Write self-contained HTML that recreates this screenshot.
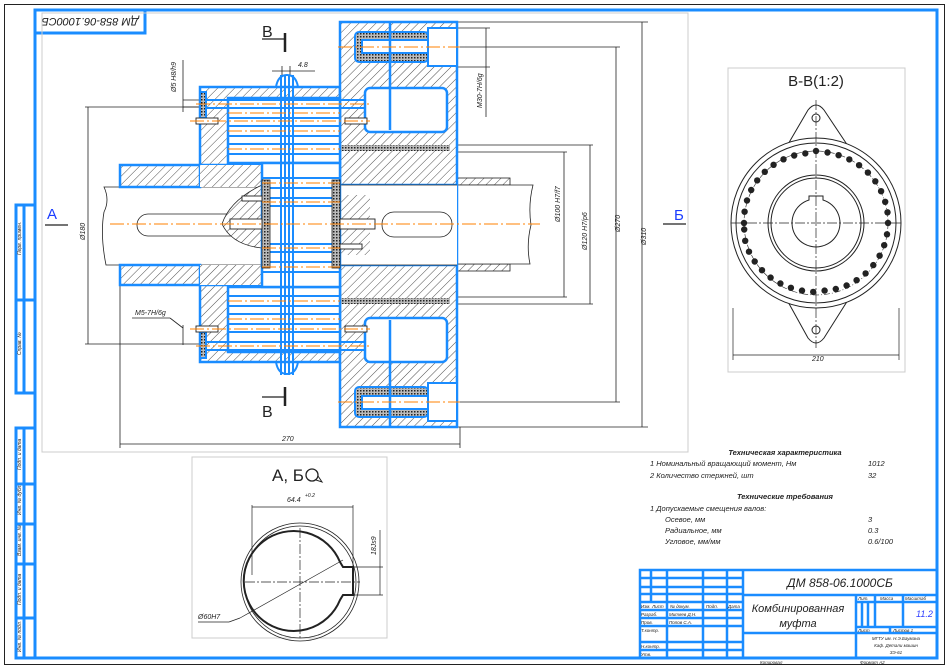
<!DOCTYPE html>
<html><head><meta charset="utf-8"><style>
html,body{margin:0;padding:0;background:#fff;}
svg{display:block;font-family:"Liberation Sans","DejaVu Sans",sans-serif;}
.t{font-style:italic;fill:#222;}
</style></head><body>
<svg width="949" height="670" viewBox="0 0 949 670" xmlns="http://www.w3.org/2000/svg">
<defs>
<pattern id="h" width="6" height="6" patternUnits="userSpaceOnUse" patternTransform="rotate(45)">
<rect width="6" height="6" fill="#fff"/><line x1="0" y1="0" x2="0" y2="6" stroke="#222" stroke-width="0.8"/></pattern>
<pattern id="x" width="3" height="3" patternUnits="userSpaceOnUse">
<rect width="3" height="3" fill="#bbb"/><rect width="1.5" height="1.5" fill="#222"/></pattern>
</defs>
<!-- sheet border -->
<rect x="4.5" y="4.5" width="940" height="660" fill="none" stroke="#222" stroke-width="1"/>
<g stroke="#1a8cff" stroke-width="3" fill="none">
<rect x="35" y="10" width="902" height="648"/>
<rect x="35" y="10" width="110" height="23"/>
<rect x="16" y="205" width="19" height="188"/>
<line x1="16" y1="300" x2="35" y2="300"/>
<line x1="24" y1="205" x2="24" y2="393"/>
<rect x="16" y="428" width="19" height="230"/>
<line x1="24" y1="428" x2="24" y2="658"/>
<line x1="16" y1="484" x2="35" y2="484"/><line x1="16" y1="524" x2="35" y2="524"/><line x1="16" y1="564" x2="35" y2="564"/><line x1="16" y1="618" x2="35" y2="618"/>
</g>
<text class="t" x="90" y="26" font-size="11" text-anchor="middle" transform="rotate(180 90 22)">ДМ 858-06.1000СБ</text>
<g font-size="5" class="t">
<text transform="translate(21,255) rotate(-90)">Перв. примен.</text>
<text transform="translate(21,355) rotate(-90)">Справ. №</text>
<text transform="translate(21,470) rotate(-90)">Подп. и дата</text>
<text transform="translate(21,515) rotate(-90)">Инв. № дубл.</text>
<text transform="translate(21,556) rotate(-90)">Взам. инв. №</text>
<text transform="translate(21,605) rotate(-90)">Подп. и дата</text>
<text transform="translate(21,652) rotate(-90)">Инв. № подл.</text>
</g>
<!-- panels -->
<rect x="42" y="13" width="646" height="439" fill="none" stroke="#ccc"/>
<rect x="728" y="68" width="177" height="304" fill="none" stroke="#ccc"/>
<rect x="192" y="457" width="195" height="181" fill="none" stroke="#ccc"/>

<!-- ===== MAIN VIEW ===== -->
<!-- dimension lines -->
<g stroke="#222" stroke-width="0.8" fill="none">
<line x1="457" y1="22" x2="648" y2="22"/><line x1="457" y1="427" x2="648" y2="427"/><line x1="642" y1="22" x2="642" y2="427"/>
<line x1="457" y1="47" x2="620" y2="47"/><line x1="457" y1="402" x2="620" y2="402"/><line x1="616" y1="47" x2="616" y2="402"/>
<line x1="457" y1="145" x2="593" y2="145"/><line x1="457" y1="304" x2="593" y2="304"/><line x1="590" y1="145" x2="590" y2="304"/>
<line x1="457" y1="152" x2="567" y2="152"/><line x1="457" y1="297" x2="567" y2="297"/><line x1="564" y1="152" x2="564" y2="297"/>
<line x1="457" y1="28" x2="490" y2="28"/><line x1="457" y1="67" x2="490" y2="67"/><line x1="486" y1="28" x2="486" y2="117"/>
<line x1="85" y1="107" x2="200" y2="107"/><line x1="85" y1="344" x2="200" y2="344"/><line x1="88" y1="107" x2="88" y2="344"/>
<line x1="120" y1="285" x2="120" y2="448"/><line x1="460" y1="427" x2="460" y2="448"/><line x1="120" y1="444" x2="460" y2="444"/>
<line x1="120" y1="258" x2="258" y2="258"/>
<line x1="341" y1="238" x2="455" y2="238"/>
<line x1="183" y1="60" x2="183" y2="112"/><line x1="183" y1="100" x2="200" y2="100"/><line x1="183" y1="107" x2="200" y2="107"/>
<line x1="183" y1="325" x2="183" y2="345"/><line x1="132" y1="318" x2="170" y2="318"/><line x1="170" y1="318" x2="183" y2="328"/>
<line x1="272" y1="71" x2="315" y2="71"/><line x1="282" y1="66" x2="282" y2="76"/><line x1="290" y1="66" x2="290" y2="76"/>
</g>
<g class="t" font-size="7">
<text transform="translate(646,245) rotate(-90)">Ø310</text>
<text transform="translate(620,232) rotate(-90)">Ø270</text>
<text transform="translate(587,250) rotate(-90)">Ø120 H7/p6</text>
<text transform="translate(560,222) rotate(-90)">Ø100 H7/f7</text>
<text transform="translate(482,108) rotate(-90)">M30-7H/6g</text>
<text transform="translate(85,240) rotate(-90)">Ø180</text>
<text transform="translate(176,92) rotate(-90)">Ø5 H8/h9</text>
<text x="135" y="315">M5-7H/6g</text>
<text x="282" y="441">270</text>
<text x="185" y="254">107</text>
<text x="392" y="235">95</text>
<text x="298" y="67">4.8</text>
<text transform="translate(384,130) rotate(-90)">Ø24 H7/n6</text>
<text transform="translate(407,125) rotate(-90)">Ø8 H7/n6</text>
</g>
<!-- right shaft -->
<rect x="457" y="178" width="53" height="7" fill="url(#h)" stroke="#222" stroke-width="0.8"/>
<rect x="457" y="264" width="53" height="7" fill="url(#h)" stroke="#222" stroke-width="0.8"/>
<path d="M457 185 H533 Q528 205 531 225 Q526 245 530 264 H457" fill="#fff" stroke="#222" stroke-width="0.8"/>
<!-- left shaft -->
<path d="M262 187 H104 Q110 200 104 212 Q100 235 106 265 H262" fill="#fff" stroke="#222" stroke-width="0.8"/>
<rect x="137" y="214" width="120" height="22" rx="11" fill="none" stroke="#222" stroke-width="0.8"/>
<!-- left hub -->
<path d="M120 165 H200 V187 H120 Z M120 265 H200 V285 H120 Z" fill="url(#h)" stroke="#1a8cff" stroke-width="2.5"/>
<!-- left flange -->
<path d="M200 87 H340 V362 H200 V285 H262 V265 H262 V187 H262 V165 H200 Z" fill="url(#h)" stroke="#1a8cff" stroke-width="2.5"/>
<path d="M200 165 H262 V187 H200 Z M200 265 H262 V285 H200 Z" fill="url(#h)" stroke="none"/>
<!-- bulb key parts -->
<path d="M262 185 Q230 200 222 224 Q232 245 262 248 Z" fill="url(#h)" stroke="#222" stroke-width="0.8"/>
<path d="M340 195 Q372 205 378 224 Q372 245 340 255 Z" fill="url(#h)" stroke="#222" stroke-width="0.8"/>
<!-- right flange -->
<path d="M340 22 H457 V427 H340 V265 H457 V185 H340 Z" fill="url(#h)" stroke="#1a8cff" stroke-width="2.5"/>
<rect x="340" y="185" width="117" height="80" fill="#fff"/>
<path d="M340 185 H457 M340 265 H457" stroke="#222" stroke-width="0.8"/>
<rect x="340" y="195" width="30" height="60" fill="url(#h)"/>
<rect x="382" y="212" width="70" height="25" rx="12" fill="#fff" stroke="#222" stroke-width="0.8"/>
<!-- pockets -->
<rect x="365" y="88" width="82" height="44" rx="5" fill="#fff" stroke="#1a8cff" stroke-width="2.5"/>
<rect x="365" y="318" width="82" height="44" rx="5" fill="#fff" stroke="#1a8cff" stroke-width="2.5"/>
<rect x="340" y="145" width="110" height="6" fill="url(#x)"/>
<rect x="340" y="298" width="110" height="6" fill="url(#x)"/>
<!-- bolts -->
<rect x="355" y="32" width="73" height="30" rx="4" fill="url(#x)" stroke="#1a8cff" stroke-width="2"/>
<rect x="362" y="40" width="66" height="13" fill="#fff" stroke="#1a8cff" stroke-width="2"/>
<rect x="428" y="28" width="29" height="38" fill="#fff" stroke="#1a8cff" stroke-width="2"/>
<rect x="355" y="387" width="73" height="30" rx="4" fill="url(#x)" stroke="#1a8cff" stroke-width="2"/>
<rect x="362" y="396" width="66" height="13" fill="#fff" stroke="#1a8cff" stroke-width="2"/>
<rect x="428" y="383" width="29" height="38" fill="#fff" stroke="#1a8cff" stroke-width="2"/>
<line x1="390" y1="22" x2="390" y2="130" stroke="#1a8cff" stroke-width="2.5"/>
<line x1="390" y1="320" x2="390" y2="427" stroke="#1a8cff" stroke-width="2.5"/>
<!-- packs -->
<rect x="228" y="98" width="112" height="65" fill="#fff" stroke="#1a8cff" stroke-width="2.5"/>
<rect x="228" y="287" width="112" height="65" fill="#fff" stroke="#1a8cff" stroke-width="2.5"/>
<rect x="262" y="163" width="78" height="124" fill="#fff" stroke="#1a8cff" stroke-width="2.5"/>
<g stroke="#1a8cff" stroke-width="2">
<line x1="205" y1="100" x2="365" y2="100"/><line x1="205" y1="108" x2="365" y2="108"/>
<line x1="228" y1="118" x2="340" y2="118"/><line x1="228" y1="126" x2="340" y2="126"/>
<line x1="228" y1="136" x2="340" y2="136"/><line x1="228" y1="144" x2="340" y2="144"/>
<line x1="228" y1="154" x2="340" y2="154"/>
<line x1="262" y1="178" x2="340" y2="178"/><line x1="262" y1="188" x2="340" y2="188"/>
<line x1="262" y1="198" x2="340" y2="198"/><line x1="262" y1="206" x2="340" y2="206"/>
<line x1="262" y1="244" x2="340" y2="244"/><line x1="262" y1="252" x2="340" y2="252"/>
<line x1="262" y1="262" x2="340" y2="262"/><line x1="262" y1="272" x2="340" y2="272"/>
<line x1="228" y1="296" x2="340" y2="296"/><line x1="228" y1="306" x2="340" y2="306"/>
<line x1="228" y1="314" x2="340" y2="314"/><line x1="228" y1="324" x2="340" y2="324"/>
<line x1="228" y1="332" x2="340" y2="332"/>
<line x1="205" y1="342" x2="365" y2="342"/><line x1="205" y1="350" x2="365" y2="350"/>
<line x1="281" y1="75" x2="281" y2="375"/><line x1="285" y1="75" x2="285" y2="375"/>
<line x1="289" y1="75" x2="289" y2="375"/><line x1="293" y1="75" x2="293" y2="375"/>
</g>
<path d="M276 87 Q278 75 287 75 Q296 75 298 87" fill="none" stroke="#1a8cff" stroke-width="2"/>
<path d="M276 362 Q278 374 287 374 Q296 374 298 362" fill="none" stroke="#1a8cff" stroke-width="2"/>
<!-- discs -->
<rect x="262" y="180" width="8" height="88" fill="url(#x)" stroke="#222" stroke-width="0.8"/>
<rect x="332" y="180" width="8" height="88" fill="url(#x)" stroke="#222" stroke-width="0.8"/>
<rect x="200" y="92" width="6" height="26" fill="url(#x)" stroke="#1a8cff" stroke-width="2"/>
<rect x="200" y="332" width="6" height="26" fill="url(#x)" stroke="#1a8cff" stroke-width="2"/>
<!-- screws -->
<g fill="#fff" stroke="#222" stroke-width="0.9">
<rect x="230" y="219" width="32" height="10"/><rect x="340" y="219" width="35" height="10"/>
<rect x="242" y="196" width="20" height="5"/><rect x="340" y="244" width="22" height="5"/>
<rect x="196" y="118" width="22" height="6"/><rect x="345" y="118" width="22" height="6"/>
<rect x="196" y="326" width="22" height="6"/><rect x="345" y="326" width="22" height="6"/>
</g>
<!-- centerlines -->
<g stroke="#ff8000" stroke-width="1" stroke-dasharray="14,3,2,3" fill="none">
<line x1="110" y1="224" x2="540" y2="224"/>
<line x1="196" y1="104" x2="370" y2="104"/><line x1="228" y1="113" x2="340" y2="113"/><line x1="228" y1="131" x2="340" y2="131"/><line x1="228" y1="149" x2="340" y2="149"/>
<line x1="262" y1="183" x2="340" y2="183"/><line x1="262" y1="202" x2="340" y2="202"/><line x1="262" y1="248" x2="340" y2="248"/><line x1="262" y1="267" x2="340" y2="267"/>
<line x1="228" y1="301" x2="340" y2="301"/><line x1="228" y1="319" x2="340" y2="319"/><line x1="196" y1="346" x2="370" y2="346"/>
<line x1="338" y1="47" x2="460" y2="47"/><line x1="338" y1="402" x2="460" y2="402"/>
<line x1="190" y1="121" x2="370" y2="121"/><line x1="190" y1="329" x2="370" y2="329"/>
</g>
<!-- section markers -->
<g stroke="#222" stroke-width="1.2" fill="#222">
<line x1="262" y1="39" x2="285" y2="39"/><line x1="285" y1="33" x2="285" y2="52" stroke-width="2.5"/>
<line x1="262" y1="397" x2="285" y2="397"/><line x1="285" y1="387" x2="285" y2="406" stroke-width="2.5"/>
<line x1="45" y1="225" x2="68" y2="225"/><line x1="663" y1="224" x2="686" y2="224"/>
</g>
<text x="262" y="37" font-size="16" fill="#222">В</text>
<text x="262" y="417" font-size="16" fill="#222">В</text>
<text x="47" y="219" font-size="15" fill="#1a3cff">А</text>
<text x="674" y="220" font-size="15" fill="#1a3cff">Б</text>

<!-- ===== B-B VIEW ===== -->
<text x="816" y="86" font-size="15" text-anchor="middle" fill="#222">В-В(1:2)</text>
<g stroke="#222" fill="none" stroke-width="1">
<path d="M787 146 L808 110 Q816 100 824 110 L848 146"/>
<path d="M787 300 L808 338 Q816 348 824 338 L848 300"/>
<circle cx="816" cy="223" r="85" fill="#fff"/>
<circle cx="816" cy="223" r="80"/>
<circle cx="816" cy="223" r="48"/><circle cx="816" cy="223" r="45"/>
<path d="M809 200 V196 H823 V200 A24 24 0 1 1 809 200 Z"/>
<circle cx="816" cy="118" r="4"/><circle cx="816" cy="330" r="4"/>
<circle cx="816" cy="223" r="72" stroke-dasharray="6,2,1,2" stroke-width="0.6"/>
<g stroke-dasharray="10,2,2,2" stroke-width="0.7">
<line x1="731" y1="223" x2="901" y2="223"/><line x1="816" y1="100" x2="816" y2="348"/>
</g>
<line x1="733" y1="308" x2="733" y2="360" stroke-width="0.7"/><line x1="899" y1="308" x2="899" y2="360" stroke-width="0.7"/>
<line x1="733" y1="355" x2="899" y2="355" stroke-width="0.7"/>
</g>
<g fill="#222" id="dots"></g>
<g fill="#222">
<circle cx="888" cy="223" r="3.2"/><circle cx="887.0" cy="234.3" r="3.2"/><circle cx="884.2" cy="245.2" r="3.2"/><circle cx="879.6" cy="255.7" r="3.2"/><circle cx="873.3" cy="265.1" r="3.2"/><circle cx="865.6" cy="273.4" r="3.2"/><circle cx="856.6" cy="280.2" r="3.2"/><circle cx="846.6" cy="285.5" r="3.2"/><circle cx="835.8" cy="289.0" r="3.2"/><circle cx="824.6" cy="290.6" r="3.2"/><circle cx="813.2" cy="291.9" r="3.2"/><circle cx="802.0" cy="290.6" r="3.2"/><circle cx="790.9" cy="287.8" r="3.2"/><circle cx="780.4" cy="283.5" r="3.2"/><circle cx="770.6" cy="277.6" r="3.2"/><circle cx="762.0" cy="270.2" r="3.2"/><circle cx="754.7" cy="261.5" r="3.2"/><circle cx="749.0" cy="251.7" r="3.2"/><circle cx="745.2" cy="240.8" r="3.2"/><circle cx="744.2" cy="229.5" r="3.2"/><circle cx="744" cy="223" r="3.2"/><circle cx="744.6" cy="211.7" r="3.2"/><circle cx="747.0" cy="200.5" r="3.2"/><circle cx="751.2" cy="190.0" r="3.2"/><circle cx="757.2" cy="180.4" r="3.2"/><circle cx="764.8" cy="171.8" r="3.2"/><circle cx="773.6" cy="164.8" r="3.2"/><circle cx="783.5" cy="159.3" r="3.2"/><circle cx="794.2" cy="155.5" r="3.2"/><circle cx="805.3" cy="153.4" r="3.2"/><circle cx="816" cy="151" r="3.2"/><circle cx="827.5" cy="152.5" r="3.2"/><circle cx="838.6" cy="155.2" r="3.2"/><circle cx="849.3" cy="159.4" r="3.2"/><circle cx="859.1" cy="165.2" r="3.2"/><circle cx="867.9" cy="172.6" r="3.2"/><circle cx="875.3" cy="181.3" r="3.2"/><circle cx="881.1" cy="191.2" r="3.2"/><circle cx="885.2" cy="201.8" r="3.2"/><circle cx="887.5" cy="212.3" r="3.2"/>
</g>
<text class="t" x="812" y="361" font-size="7">210</text>

<!-- ===== A,B VIEW ===== -->
<text x="272" y="481" font-size="17" fill="#222">А, Б</text>
<circle cx="312" cy="475" r="6" fill="none" stroke="#222" stroke-width="1.3"/>
<path d="M316 480 L322 482 L318 476" fill="none" stroke="#222" stroke-width="1"/>
<g stroke="#222" fill="none">
<circle cx="300" cy="582" r="59" stroke-width="0.8"/>
<circle cx="300" cy="582" r="56" stroke-width="0.8"/>
<path d="M340 562 L343 567 H353 V595 H343 L340 600 A50 50 0 1 1 340 562 Z" stroke-width="2"/>
<g stroke-dasharray="10,2,2,2" stroke-width="0.7"><line x1="245" y1="582" x2="360" y2="582"/><line x1="300" y1="528" x2="300" y2="640"/></g>
<g stroke-width="0.7">
<line x1="252" y1="505" x2="252" y2="575"/><line x1="353" y1="505" x2="353" y2="575"/><line x1="252" y1="507" x2="353" y2="507"/>
<line x1="353" y1="567" x2="383" y2="567"/><line x1="353" y1="595" x2="383" y2="595"/><line x1="380" y1="530" x2="380" y2="595"/>
<line x1="229" y1="622" x2="240" y2="618"/><line x1="240" y1="618" x2="343" y2="560"/><line x1="198" y1="622" x2="229" y2="622"/>
</g></g>
<g class="t" font-size="7">
<text x="287" y="502">64.4</text><text x="305" y="497" font-size="5">+0.2</text>
<text transform="translate(376,555) rotate(-90)">18Js9</text>
<text x="198" y="619">Ø60H7</text>
</g>

<!-- ===== TECH TEXT ===== -->
<g class="t" font-size="7.5">
<text x="785" y="455" text-anchor="middle" font-weight="bold">Техническая характеристика</text>
<text x="650" y="466">1  Номинальный вращающий момент, Нм</text><text x="868" y="466">1012</text>
<text x="650" y="478">2  Количество стержней, шт</text><text x="868" y="478">32</text>
<text x="785" y="499" text-anchor="middle" font-weight="bold">Технические требования</text>
<text x="650" y="511">1  Допускаемые смещения валов:</text>
<text x="665" y="522">Осевое, мм</text><text x="868" y="522">3</text>
<text x="665" y="533">Радиальное, мм</text><text x="868" y="533">0.3</text>
<text x="665" y="544">Угловое, мм/мм</text><text x="868" y="544">0.6/100</text>
</g>

<!-- ===== TITLE BLOCK ===== -->
<g stroke="#1a8cff" stroke-width="2.5" fill="none">
<rect x="640" y="570" width="297" height="88"/>
<line x1="651" y1="570" x2="651" y2="602"/><line x1="667" y1="570" x2="667" y2="658"/><line x1="703" y1="570" x2="703" y2="658"/><line x1="727" y1="570" x2="727" y2="658"/><line x1="743" y1="570" x2="743" y2="658"/>
<line x1="640" y1="578" x2="743" y2="578"/><line x1="640" y1="587" x2="743" y2="587"/><line x1="640" y1="594" x2="743" y2="594"/><line x1="640" y1="602" x2="743" y2="602"/>
<line x1="640" y1="610" x2="743" y2="610"/><line x1="640" y1="618" x2="743" y2="618"/><line x1="640" y1="626" x2="743" y2="626"/><line x1="640" y1="642" x2="743" y2="642"/><line x1="640" y1="650" x2="743" y2="650"/>
<line x1="743" y1="595" x2="937" y2="595"/><line x1="743" y1="633" x2="937" y2="633"/>
<line x1="856" y1="595" x2="856" y2="658"/>
<line x1="856" y1="602" x2="937" y2="602"/><line x1="856" y1="627" x2="937" y2="627"/>
<line x1="875" y1="595" x2="875" y2="627"/><line x1="903" y1="595" x2="903" y2="627"/>
<line x1="862" y1="602" x2="862" y2="627"/><line x1="868" y1="602" x2="868" y2="627"/>
<line x1="890" y1="627" x2="890" y2="633"/>
</g>
<text class="t" x="840" y="587" font-size="12" text-anchor="middle">ДМ 858-06.1000СБ</text>
<text class="t" x="798" y="612" font-size="11" text-anchor="middle">Комбинированная</text>
<text class="t" x="798" y="627" font-size="11" text-anchor="middle">муфта</text>
<text class="t" x="916" y="617" font-size="9" fill="#3040ff" style="fill:#3040ff">11.2</text>
<g class="t" font-size="4.5">
<text x="641" y="608">Изм.</text><text x="652" y="608">Лист</text><text x="670" y="608">№ докум.</text><text x="706" y="608">Подп.</text><text x="728" y="608">Дата</text>
<text x="641" y="616">Разраб.</text><text x="669" y="616">Митяев Д.Н.</text>
<text x="641" y="624">Пров.</text><text x="669" y="624">Попов С.А.</text>
<text x="641" y="632">Т.контр.</text><text x="641" y="648">Н.контр.</text><text x="641" y="656">Утв.</text>
<text x="858" y="600">Лит.</text><text x="880" y="600">Масса</text><text x="905" y="600">Масштаб</text>
<text x="858" y="632">Лист</text><text x="893" y="632">Листов 1</text>
<text x="896" y="640" text-anchor="middle">МГТУ им. Н.Э.Баумана</text>
<text x="896" y="647" text-anchor="middle">Каф. Детали машин</text>
<text x="896" y="654" text-anchor="middle">ЗЭ-61</text>
<text x="760" y="664">Копировал</text><text x="860" y="664">Формат    А2</text>
</g>
</svg>
</body></html>
